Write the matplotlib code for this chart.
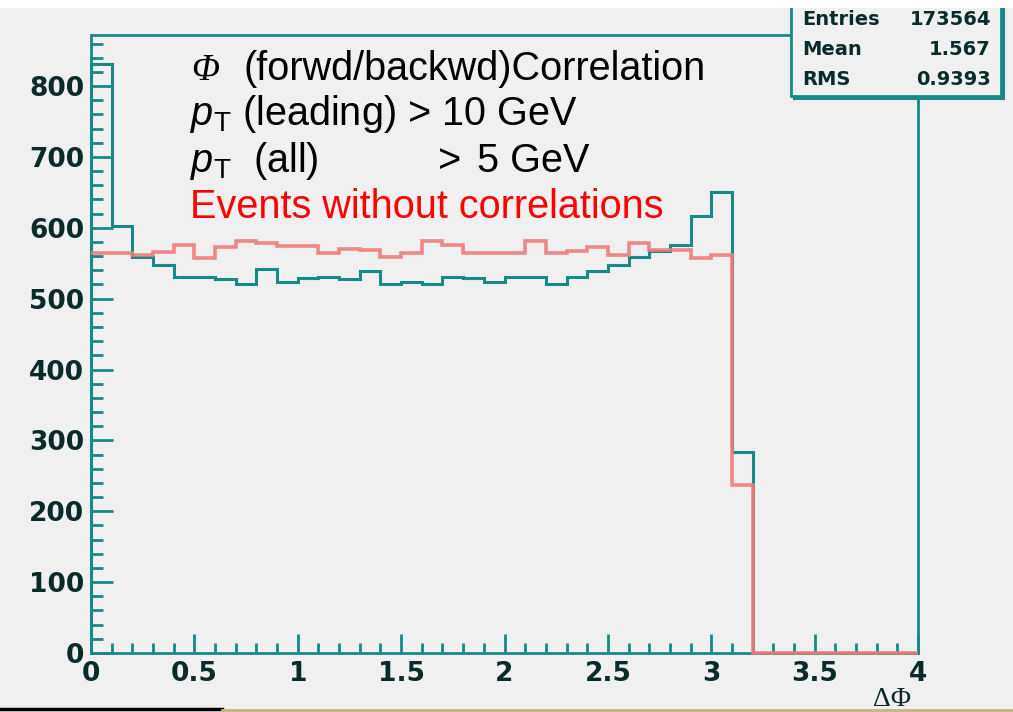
import matplotlib
matplotlib.use("Agg")
import matplotlib.pyplot as plt
import numpy as np
from matplotlib.ticker import MultipleLocator, FixedLocator, FixedFormatter
from matplotlib.patches import Rectangle
from matplotlib.lines import Line2D

# ---------------- data ----------------
bin_edges = np.linspace(0.0, 4.0, 41)
teal_counts = [831, 602, 559, 547, 531, 531, 528, 520, 542, 524,
               529, 530, 528, 539, 520, 524, 521, 531, 529, 524,
               531, 530, 520, 530, 539, 548, 559, 567, 576, 616,
               650, 284, 0, 0, 0, 0, 0, 0, 0, 0]
red_counts = [564, 564, 561, 566, 576, 558, 573, 581, 579, 574,
              574, 565, 570, 568, 559, 565, 581, 575, 565, 565,
              565, 582, 565, 567, 573, 562, 578, 569, 568, 558,
              562, 237, 0, 0, 0, 0, 0, 0, 0, 0]
xtick_values = [0, 0.5, 1, 1.5, 2, 2.5, 3, 3.5, 4]
xtick_labels = ["0", "0.5", "1", "1.5", "2", "2.5", "3", "3.5", "4"]
ytick_values = [0, 100, 200, 300, 400, 500, 600, 700, 800]
ytick_labels = ["0", "100", "200", "300", "400", "500", "600", "700", "800"]
stats_names = ["Entries", "Mean", "RMS"]
stats_values = ["173564", "1.567", "0.9393"]

# ---------------- style ----------------
W, H = 1013, 712
BG = "#f0f0f0"
TEAL = "#178a88"
RED = "#f07c7c"
DARK = "#0b2a2a"

plt.rcParams["mathtext.fontset"] = "custom"
plt.rcParams["mathtext.rm"] = "Liberation Sans"
plt.rcParams["mathtext.it"] = "Liberation Sans:italic"

fig = plt.figure(figsize=(W / 100, H / 100), dpi=100, facecolor=BG)


def fx(px):
    return px / W


def fy(py):
    return 1 - py / H


ax = fig.add_axes([fx(91), fy(653), fx(918) - fx(91), fy(35) - fy(653)])
ax.set_facecolor(BG)

ax.stairs(teal_counts, bin_edges, color=TEAL, linewidth=2.2, zorder=3,
          clip_on=False, baseline=0)
ax.stairs(red_counts, bin_edges, color=RED, linewidth=2.6, zorder=3.2,
          clip_on=False, baseline=None, alpha=0.9)

ax.set_xlim(0, 4)
ax.set_ylim(0, 872)

for s in ax.spines.values():
    s.set_color(TEAL)
    s.set_linewidth(2.0)
    s.set_zorder(2.5)

ax.xaxis.set_major_locator(FixedLocator(xtick_values))
ax.xaxis.set_major_formatter(FixedFormatter(xtick_labels))
ax.xaxis.set_minor_locator(MultipleLocator(0.1))
ax.yaxis.set_major_locator(FixedLocator(ytick_values))
ax.yaxis.set_major_formatter(FixedFormatter(ytick_labels))
ax.yaxis.set_minor_locator(MultipleLocator(20))

ax.tick_params(axis="both", which="both", direction="in", color=TEAL,
               width=2.0, top=False, right=False)
ax.tick_params(axis="y", which="major", length=16, pad=5)
ax.tick_params(axis="y", which="minor", length=8.5)
ax.tick_params(axis="x", which="major", length=14, pad=6)
ax.tick_params(axis="x", which="minor", length=7.5)
for lab in ax.get_xticklabels() + ax.get_yticklabels():
    lab.set_fontfamily("DejaVu Sans")
    lab.set_fontweight("bold")
    lab.set_fontsize(19)
    lab.set_color(DARK)

# axis title
fig.text(fx(911), fy(706), "ΔΦ", ha="right", va="baseline",
         fontsize=20, family="Liberation Serif", color=DARK)

# ---------------- annotation text ----------------
TS = 28.5
fig.text(fx(191), fy(80), "Φ", ha="left", va="baseline", fontsize=TS - 2,
         family="Liberation Serif", style="italic", color="black")
fig.text(fx(243), fy(80), "(forwd/backwd)Correlation", ha="left",
         va="baseline", fontsize=TS, family="Liberation Sans", color="black")
fig.text(fx(190), fy(125), r"$p_{\mathrm{T}}$ (leading) > 10 GeV", ha="left",
         va="baseline", fontsize=TS, family="Liberation Sans", color="black")
fig.text(fx(190), fy(172), r"$p_{\mathrm{T}}$  (all)", ha="left",
         va="baseline", fontsize=TS, family="Liberation Sans", color="black")
fig.text(fx(438), fy(172), ">", ha="left",
         va="baseline", fontsize=TS, family="Liberation Sans", color="black")
fig.text(fx(477), fy(172), "5 GeV", ha="left",
         va="baseline", fontsize=TS, family="Liberation Sans", color="black")
fig.text(fx(190), fy(218), "Events without correlations", ha="left",
         va="baseline", fontsize=TS, family="Liberation Sans", color="#ff0000")

# ---------------- stats box ----------------
box_l, box_r, box_t, box_b = 791, 1001, 4, 96
fig.patches.append(Rectangle((fx(box_l + 3), fy(box_b + 3)),
                             fx(box_r) - fx(box_l), fy(box_t) - fy(box_b),
                             transform=fig.transFigure, facecolor=TEAL,
                             edgecolor=TEAL, linewidth=1.5, zorder=10))
fig.patches.append(Rectangle((fx(box_l), fy(box_b)),
                             fx(box_r) - fx(box_l), fy(box_t) - fy(box_b),
                             transform=fig.transFigure, facecolor=BG,
                             edgecolor=TEAL, linewidth=2.0, zorder=11))
row_y = [25, 55, 85]
for name, val, yy in zip(stats_names, stats_values, row_y):
    fig.text(fx(802), fy(yy), name, ha="left", va="baseline", fontsize=14,
             family="DejaVu Sans", fontweight="bold", color=DARK, zorder=12)
    fig.text(fx(991), fy(yy), val, ha="right", va="baseline", fontsize=14,
             family="DejaVu Sans", fontweight="bold", color=DARK, zorder=12)

# top white strip and bottom edge artifacts
fig.patches.append(Rectangle((0, fy(8)), 1, 8 / H, transform=fig.transFigure,
                             facecolor="white", edgecolor="none", zorder=13))
fig.lines.append(Line2D([0, fx(222)], [fy(709), fy(709)], transform=fig.transFigure,
                        color="black", linewidth=2.5, zorder=13))
fig.lines.append(Line2D([fx(222), 1], [fy(710), fy(710)], transform=fig.transFigure,
                        color="#c8b47a", linewidth=2.0, zorder=13))

fig.savefig("out.png", dpi=100, facecolor=BG)
